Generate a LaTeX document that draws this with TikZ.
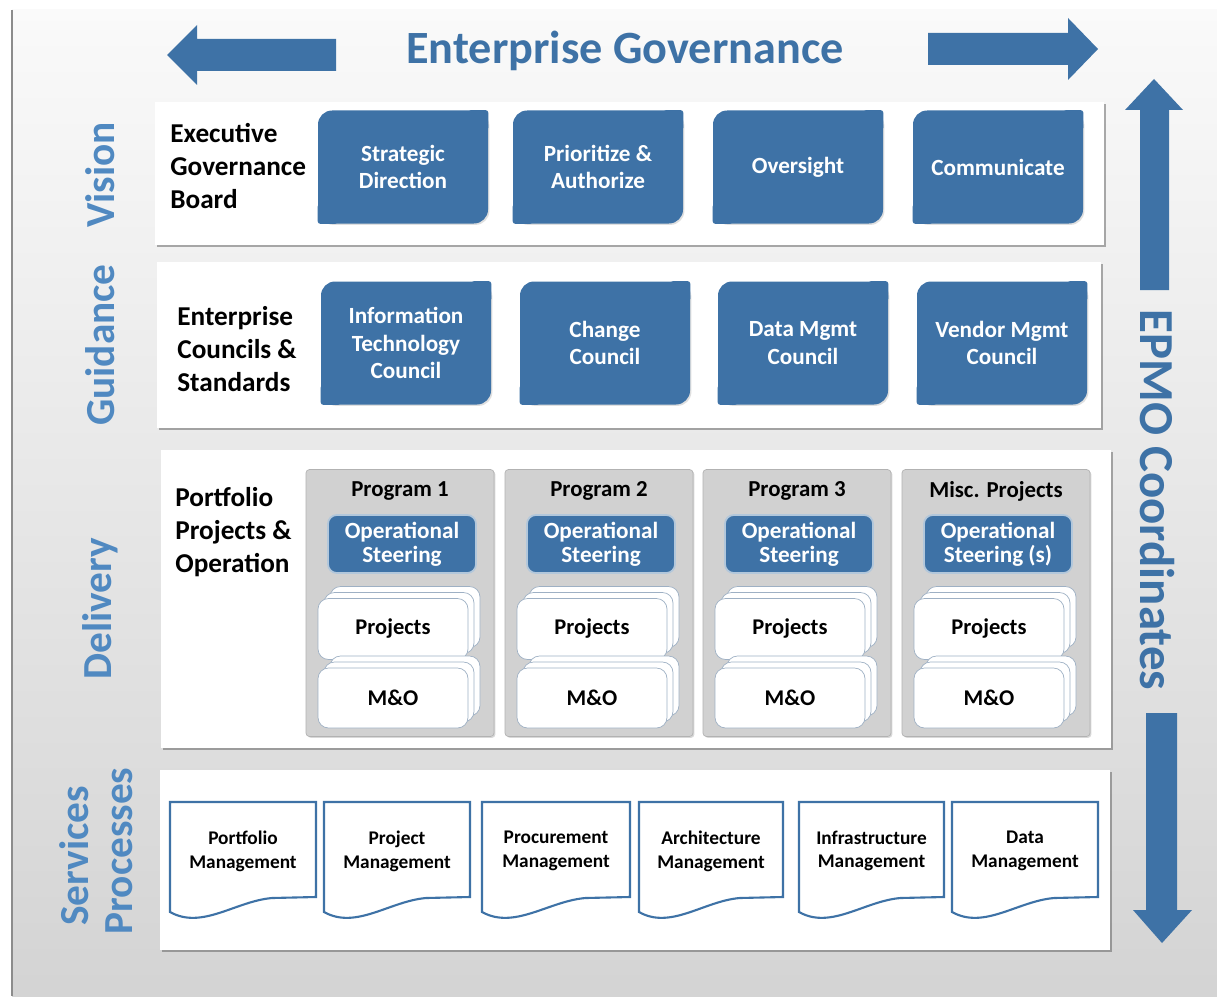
\documentclass[tikz,border=0pt]{standalone}
\usepackage{fontspec}
\setmainfont{Carlito}
\usetikzlibrary{shadows}
\definecolor{govblue}{RGB}{62,114,166}
\definecolor{sideblue}{RGB}{80,137,193}
\definecolor{cardline}{RGB}{158,176,196}

\begin{document}
\begin{tikzpicture}[x=0.2mm,y=-0.2mm,font=\bfseries,
    panel/.style={fill=white,drop shadow={shadow xshift=1.3pt,shadow yshift=-1.3pt,fill=black!70,opacity=.45}},
    sidelabel/.style={text=sideblue,rotate=90,font=\fontsize{23.5}{25}\selectfont\bfseries},
    rowlabel/.style={anchor=west,align=left,inner sep=0pt,font=\fontsize{15.5}{19}\selectfont\bfseries},
    govbox/.style={fill=govblue,text=white,rounded corners=8pt,minimum width=34mm,align=center,font=\fontsize{13.2}{15.8}\selectfont\bfseries,
      drop shadow={shadow xshift=.8pt,shadow yshift=-.8pt,opacity=.25}},
    progcol/.style={fill=black!18,draw=black!30,rounded corners=2pt,minimum width=37.6mm,minimum height=53.4mm,
      drop shadow={shadow xshift=.8pt,shadow yshift=-.8pt,opacity=.3}},
    progtitle/.style={font=\fontsize{13}{14}\selectfont\bfseries},
    steerbox/.style={fill=govblue,draw=govblue!40,line width=1pt,text=white,rounded corners=5pt,minimum width=29.6mm,
      minimum height=11.6mm,align=center,font=\fontsize{13.2}{13.8}\selectfont\bfseries},
    card/.style={fill=white,draw=cardline,rounded corners=6pt,minimum width=30mm,minimum height=12.2mm,
      font=\fontsize{12.8}{14}\selectfont\bfseries},
    docbox/.style={fill=white,draw=govblue,line width=1.2pt},
    doctext/.style={align=center,font=\fontsize{11}{13.5}\selectfont\bfseries}]
    % slide background
    \fill[white] (0,0) rectangle (1217,996);
    \shade[top color=black!2,bottom color=black!17] (12,10) rectangle (1217,996);
    \draw[black!45,line width=1pt] (12,10) -- (12,996);
    % enterprise governance
    \node[text=govblue,font=\fontsize{26.3}{28}\selectfont\bfseries] (title) at (625,51) {Enterprise Governance};
    \fill[govblue] (336,39) -- (197,39) -- (197,25) -- (167,55) -- (197,85) -- (197,71) -- (336,71) -- cycle;
    \fill[govblue] (928,33) -- (1068,33) -- (1068,18) -- (1098,49) -- (1068,80) -- (1068,65) -- (928,65) -- cycle;
    % epmo coordinates
    \fill[govblue] (1140,290) -- (1140,110) -- (1125,110) -- (1154,79) -- (1183,110) -- (1169,110) -- (1169,290) -- cycle;
    \fill[govblue] (1146,713) -- (1146,910) -- (1133,910) -- (1162,943) -- (1192,910) -- (1177,910) -- (1177,713) -- cycle;
    \node[text=govblue,rotate=-90,font=\fontsize{27.8}{29}\selectfont\bfseries] (epmo) at (1157,500) {EPMO Coordinates};
    % panels
    \path[panel] (155,102) rectangle (1104,245);
    \path[panel] (157,262) rectangle (1101,428);
    \path[panel] (161,450) rectangle (1111,748);
    \path[panel] (160,770) rectangle (1110,950);
    % row names
    \node[sidelabel] (vis) at (100,175) {Vision};
    \node[sidelabel] (gui) at (100,345) {Guidance};
    \node[sidelabel] (del) at (100,609) {Delivery};
    \node[sidelabel] (ser) at (74,856) {Services};
    \node[sidelabel] (pro) at (119,851) {Processes};
    \node[rowlabel] (egb) at (170,166) {Executive\\Governance\\Board};
    \node[rowlabel] (ecs) at (177,349) {Enterprise\\Councils \&\\Standards};
    \node[rowlabel] (ppo) at (175,532) {Portfolio\\Projects \&\\Operation};
    % vision
    \foreach \cx/\nm/\txt in {403/strat/{Strategic\\Direction},598/prio/{Prioritize \&\\Authorize},
        798/over/{Oversight},998/comm/{Communicate}}{
        \node[govbox,minimum height=22.6mm] (\nm) at (\cx,167) {\txt};
        \fill[govblue,rounded corners=1.5pt] (\nm.north east) rectangle ++(-20,20);
        \fill[govblue,rounded corners=1.5pt] (\nm.south west) rectangle ++(20,-20);
    }
    % guidance
    \foreach \cx/\nm/\txt in {406/itc/{Information\\Technology\\Council},605/chc/{Change\\Council},
        803/dmc/{Data Mgmt\\Council},1002/vmc/{Vendor Mgmt\\Council}}{
        \node[govbox,minimum height=24.6mm] (\nm) at (\cx,343) {\txt};
        \fill[govblue,rounded corners=1.5pt] (\nm.north east) rectangle ++(-20,20);
        \fill[govblue,rounded corners=1.5pt] (\nm.south west) rectangle ++(20,-20);
    }
    % delivery
    \foreach \lx/\nm/\ttl/\stxt in {306/pa/{Program 1}/{Operational\\Steering},505/pb/{Program 2}/{Operational\\Steering},
        703/pc/{Program 3}/{Operational\\Steering},902/pd/{Misc. Projects}/{Operational\\Steering (s)}}{
        \node[progcol] (\nm) at (\lx+94,603) {};
        \node[progtitle] (\nm t) at (\lx+94,491) {\ttl};
        \node[steerbox] (\nm s) at (\lx+96,544) {\stxt};
        \node[card] (\nm pa) at (\lx+99,617) {};
        \node[card] (\nm pb) at (\lx+93,623) {};
        \node[card] (\nm p) at (\lx+87,629) {Projects};
        \node[card,minimum height=12mm] (\nm ma) at (\lx+99,686) {};
        \node[card,minimum height=12mm] (\nm mb) at (\lx+93,692) {};
        \node[card,minimum height=12mm] (\nm m) at (\lx+87,698) {M\&O};
    }
    % services processes
    \foreach \xa/\xb/\nm/\txt in {170/316/portm/{Portfolio\\Management},324/470/projm/{Project\\Management},
        482/630/procm/{Procurement\\Management},639/783/archm/{Architecture\\Management},
        799/944/infm/{Infrastructure\\Management},952/1098/datm/{Data\\Management}}{
        \filldraw[docbox] (\xa,802) -- (\xb,802) -- (\xb,897) -- ({\xa+0.7*(\xb-\xa)},898)
            .. controls ({\xa+0.45*(\xb-\xa)},901) and ({\xa+0.22*(\xb-\xa)},930) .. (\xa,912) -- cycle;
        \node[doctext] (\nm) at ({(\xa+\xb)/2},851) {\txt};
    }
\end{tikzpicture}
\end{document}
